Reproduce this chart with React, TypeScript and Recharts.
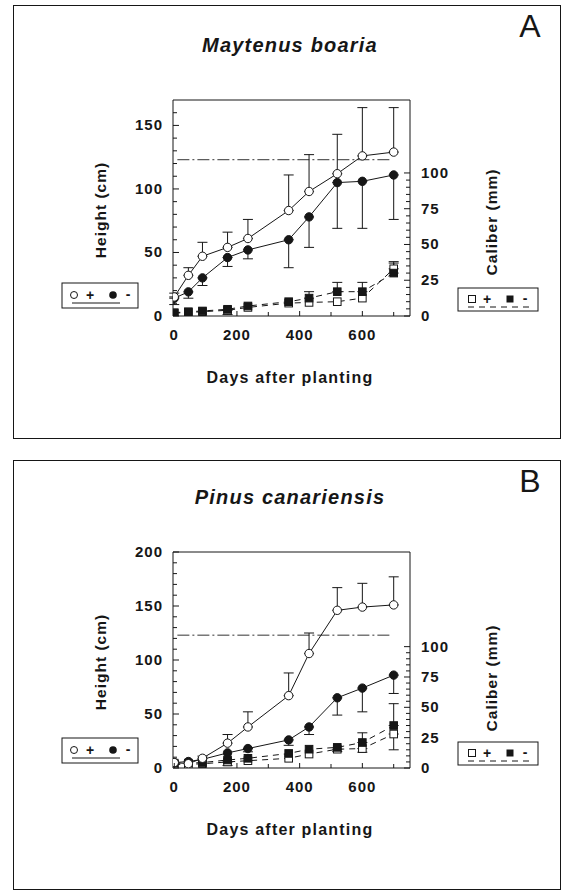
import React from "react";
import { LineChart, Line, XAxis, YAxis, ErrorBar, ReferenceLine } from "recharts";

const days = [0, 45, 90, 170, 235, 365, 430, 520, 600, 700];
const dayTicks = [0, 100, 200, 300, 400, 500, 600, 700];

// Panel A - Maytenus boaria
const mbHeightPlus = [15, 32, 47, 54, 61, 83, 98, 112, 126, 129];
const mbHeightPlusUp = [3, 6, 11, 12, 15, 28, 29, 31, 38, 35];
const mbHeightMinus = [14, 19, 30, 46, 52, 60, 78, 105, 106, 111];
const mbHeightMinusDown = [5, 5, 6, 7, 7, 22, 24, 36, 37, 35];
const mbCaliberPlus = [2, 2.5, 3, 4, 6, 9, 9.5, 10, 12.5, 33];
const mbCaliberPlusUp = [0, 0, 0, 0, 0, 0, 0, 0, 0, 5];
const mbCaliberPlusDown = [0, 0, 0, 3, 0, 0, 0, 0, 0, 0];
const mbCaliberMinus = [2.3, 3, 3.5, 4.7, 7, 10, 12.5, 17, 17, 30];
const mbCaliberMinusUp = [0, 0, 0, 0, 0, 0, 4.5, 6.5, 6.5, 7];

// Panel B - Pinus canariensis
const pcHeightPlus = [5, 4, 9, 23, 38, 67, 106, 146, 149, 151];
const pcHeightPlusUp = [0, 0, 2, 8, 14, 21, 19, 21, 22, 26];
const pcHeightMinus = [5, 6, 8, 14, 18, 26, 38, 65, 74, 86];
const pcHeightMinusDown = [0, 0, 0, 0, 3, 5, 7, 16, 22, 17];
const pcCaliberPlus = [3, 3, 3.5, 5, 6, 8, 11.5, 15.5, 16, 28];
const pcCaliberPlusUp = [0, 0, 0, 0, 0, 0, 0, 0, 0, 0];
const pcCaliberPlusDown = [0, 0, 0, 3, 0, 0, 0, 2, 3, 13];
const pcCaliberMinus = [4, 4, 4.5, 6.6, 8, 12, 15.5, 17, 21, 35];
const pcCaliberMinusUp = [0, 0, 0, 0, 0, 0, 0, 0, 8, 18];

const FONT = "'Liberation Sans', Arial, Helvetica, sans-serif";
const INK = "#161616";

const err = (lo: number, hi: number) => (lo === 0 && hi === 0 ? undefined : [lo, hi]);

function buildRows(hp, hpUp, hm, hmDown, cp, cpUp, cpDown, cm, cmUp) {
  return days.map((day, i) => ({
    day,
    hp: hp[i],
    hpErr: err(0, hpUp[i]),
    hm: hm[i],
    hmErr: err(hmDown[i], 0),
    cp: cp[i],
    cpErr: err(cpDown[i], cpUp[i]),
    cm: cm[i],
    cmErr: err(0, cmUp[i]),
  }));
}

const rowsA = buildRows(
  mbHeightPlus, mbHeightPlusUp, mbHeightMinus, mbHeightMinusDown,
  mbCaliberPlus, mbCaliberPlusUp, mbCaliberPlusDown, mbCaliberMinus, mbCaliberMinusUp
);
const rowsB = buildRows(
  pcHeightPlus, pcHeightPlusUp, pcHeightMinus, pcHeightMinusDown,
  pcCaliberPlus, pcCaliberPlusUp, pcCaliberPlusDown, pcCaliberMinus, pcCaliberMinusUp
);

const range = (from: number, to: number, step: number) => {
  const out: number[] = [];
  for (let v = from; v <= to + 1e-9; v += step) out.push(v);
  return out;
};

const tickText = { fontFamily: FONT, fontSize: 15, fontWeight: 700, letterSpacing: 1, fill: INK };

function DayTick(props: any) {
  const { x, y, payload } = props;
  const major = payload.value % 200 === 0;
  return (
    <g>
      <line x1={x} y1={y} x2={x} y2={y - (major ? 5 : 4)} stroke={INK} />
      {major && (
        <text x={x} y={y + 24} textAnchor="middle" style={tickText}>
          {payload.value}
        </text>
      )}
    </g>
  );
}

function LeftTick(props: any) {
  const { x, y, payload } = props;
  const major = payload.value % 50 === 0;
  return (
    <g>
      <line x1={x} y1={y} x2={x + (major ? 6 : 4)} y2={y} stroke={INK} />
      {major && (
        <text x={x - 10} y={y + 5} textAnchor="end" style={tickText}>
          {payload.value}
        </text>
      )}
    </g>
  );
}

function RightTick(props: any) {
  const { x, y, payload } = props;
  const major = payload.value % 25 === 0;
  return (
    <g>
      <line x1={x} y1={y} x2={x - (major ? 6 : 4)} y2={y} stroke={INK} />
      {major && (
        <text x={x + 11} y={y + 5} textAnchor="start" style={tickText}>
          {payload.value}
        </text>
      )}
    </g>
  );
}

const openCircle = (p: any) => (
  <circle key={p.key ?? `oc-${p.index}`} cx={p.cx} cy={p.cy} r={4.2} fill="#fff" stroke={INK} strokeWidth={1} />
);
const filledCircle = (p: any) => (
  <circle key={p.key ?? `fc-${p.index}`} cx={p.cx} cy={p.cy} r={4.2} fill={INK} stroke={INK} />
);
const openSquare = (p: any) => (
  <rect key={p.key ?? `os-${p.index}`} x={p.cx - 3.8} y={p.cy - 3.8} width={7.6} height={7.6} fill="#fff" stroke={INK} strokeWidth={1} />
);
const filledSquare = (p: any) => (
  <rect key={p.key ?? `fs-${p.index}`} x={p.cx - 3.8} y={p.cy - 3.8} width={7.6} height={7.6} fill={INK} stroke={INK} />
);

interface PanelProps {
  top: number;
  frameTop: number;
  frameHeight: number;
  title: string;
  letter: string;
  rows: any[];
  heightMax: number;
  caliberMax: number;
  caliberLabelY: number;
  legendLeftY: number;
  legendRightY: number;
}

function Panel({
  top, frameTop, frameHeight, title, letter, rows,
  heightMax, caliberMax, caliberLabelY, legendLeftY, legendRightY,
}: PanelProps) {
  const heightTicks = range(0, Math.min(heightMax, 200), 10).filter((v) => v < heightMax || v % 50 === 0);
  const caliberTicks = range(0, 100, 5);
  const boldText = { fontFamily: FONT, fontWeight: 700, fill: INK };

  return (
    <div style={{ position: "absolute", left: 0, top, width: 568, height: 440 }}>
      <div
        style={{
          position: "absolute",
          left: 13,
          top: frameTop,
          width: 548,
          height: frameHeight,
          border: `1.5px solid ${INK}`,
          boxSizing: "border-box",
        }}
      />
      <div style={{ position: "absolute", left: 0, top: 0 }}>
        <LineChart width={568} height={440} data={rows} margin={{ top: 100, right: 98, bottom: 94, left: 113 }}>
          <XAxis
            dataKey="day"
            type="number"
            domain={[-4, 752]}
            ticks={dayTicks}
            interval={0}
            height={30}
            tickSize={0}
            tickMargin={0}
            tick={(p: any) => <DayTick {...p} />}
            stroke={INK}
            allowDataOverflow
          />
          <YAxis
            yAxisId="h"
            domain={[0, heightMax]}
            ticks={heightTicks}
            interval={0}
            width={60}
            tickSize={0}
            tickMargin={0}
            tick={(p: any) => <LeftTick {...p} />}
            stroke={INK}
            allowDataOverflow
          />
          <YAxis
            yAxisId="c"
            orientation="right"
            domain={[0, caliberMax]}
            ticks={caliberTicks}
            interval={0}
            width={60}
            tickSize={0}
            tickMargin={0}
            tick={(p: any) => <RightTick {...p} />}
            stroke={INK}
            allowDataOverflow
          />
          <ReferenceLine yAxisId="h" y={heightMax} stroke={INK} strokeWidth={1} />
          <ReferenceLine
            yAxisId="h"
            segment={[{ x: 10, y: 123 }, { x: 690, y: 123 }]}
            stroke="#333"
            strokeWidth={1}
            strokeDasharray="12 3 2 3"
          />
          <Line yAxisId="c" dataKey="cp" stroke={INK} strokeWidth={1} strokeDasharray="6 5" dot={openSquare} isAnimationActive={false}>
            <ErrorBar dataKey="cpErr" width={5} stroke={INK} strokeWidth={1} direction="y" />
          </Line>
          <Line yAxisId="c" dataKey="cm" stroke={INK} strokeWidth={1} strokeDasharray="6 5" dot={filledSquare} isAnimationActive={false}>
            <ErrorBar dataKey="cmErr" width={5} stroke={INK} strokeWidth={1} direction="y" />
          </Line>
          <Line yAxisId="h" dataKey="hm" stroke={INK} strokeWidth={1} dot={filledCircle} isAnimationActive={false}>
            <ErrorBar dataKey="hmErr" width={5} stroke={INK} strokeWidth={1} direction="y" />
          </Line>
          <Line yAxisId="h" dataKey="hp" stroke={INK} strokeWidth={1} dot={openCircle} isAnimationActive={false}>
            <ErrorBar dataKey="hpErr" width={5} stroke={INK} strokeWidth={1} direction="y" />
          </Line>
        </LineChart>
      </div>
      <svg width={568} height={440} style={{ position: "absolute", left: 0, top: 0, pointerEvents: "none" }}>
        <text x={290} y={52} textAnchor="middle" style={{ ...boldText, fontSize: 20, fontStyle: "italic", letterSpacing: 1.2 }}>
          {title}
        </text>
        <text x={530} y={frameTop + 32} textAnchor="middle" style={{ fontFamily: FONT, fontSize: 32, fill: INK }}>
          {letter}
        </text>
        <text
          x={0}
          y={0}
          transform={`translate(106, 210) rotate(-90)`}
          textAnchor="middle"
          style={{ ...boldText, fontSize: 15.5, letterSpacing: 1 }}
        >
          Height (cm)
        </text>
        <text
          x={0}
          y={0}
          transform={`translate(497, ${caliberLabelY}) rotate(-90)`}
          textAnchor="middle"
          style={{ ...boldText, fontSize: 15.5, letterSpacing: 1 }}
        >
          Caliber (mm)
        </text>
        <text x={290} y={383} textAnchor="middle" style={{ ...boldText, fontSize: 16, letterSpacing: 1.2 }}>
          Days after planting
        </text>

        <g transform={`translate(62, ${legendLeftY})`}>
          <rect x={0} y={0} width={76} height={25} fill="#fff" stroke={INK} strokeWidth={1} />
          <circle cx={12} cy={12} r={3.5} fill="#fff" stroke={INK} />
          <text x={28} y={17} textAnchor="middle" style={{ ...boldText, fontSize: 14 }}>+</text>
          <circle cx={51} cy={12} r={3.8} fill={INK} />
          <text x={66} y={16} textAnchor="middle" style={{ ...boldText, fontSize: 14 }}>-</text>
          <line x1={10} y1={20} x2={58} y2={20} stroke={INK} strokeWidth={1} />
        </g>
        <g transform={`translate(458, ${legendRightY})`}>
          <rect x={0} y={0} width={80} height={23} fill="#fff" stroke={INK} strokeWidth={1} />
          <rect x={10.5} y={7.5} width={7} height={7} fill="#fff" stroke={INK} />
          <text x={29} y={16} textAnchor="middle" style={{ ...boldText, fontSize: 14 }}>+</text>
          <rect x={48.5} y={7.5} width={7} height={7} fill={INK} />
          <text x={67} y={15} textAnchor="middle" style={{ ...boldText, fontSize: 14 }}>-</text>
          <line x1={10} y1={19} x2={74} y2={19} stroke={INK} strokeWidth={1} strokeDasharray="6 5" />
        </g>
      </svg>
    </div>
  );
}

export default function App() {
  return (
    <div style={{ position: "absolute", left: 0, top: 0, width: 568, height: 893, background: "#fff" }}>
      <Panel
        top={0}
        frameTop={5}
        frameHeight={434}
        title="Maytenus boaria"
        letter="A"
        rows={rowsA}
        heightMax={170}
        caliberMax={151}
        caliberLabelY={222}
        legendLeftY={283}
        legendRightY={288}
      />
      <Panel
        top={452}
        frameTop={8}
        frameHeight={430}
        title="Pinus canariensis"
        letter="B"
        rows={rowsB}
        heightMax={200}
        caliberMax={178}
        caliberLabelY={226}
        legendLeftY={286}
        legendRightY={290}
      />
    </div>
  );
}
